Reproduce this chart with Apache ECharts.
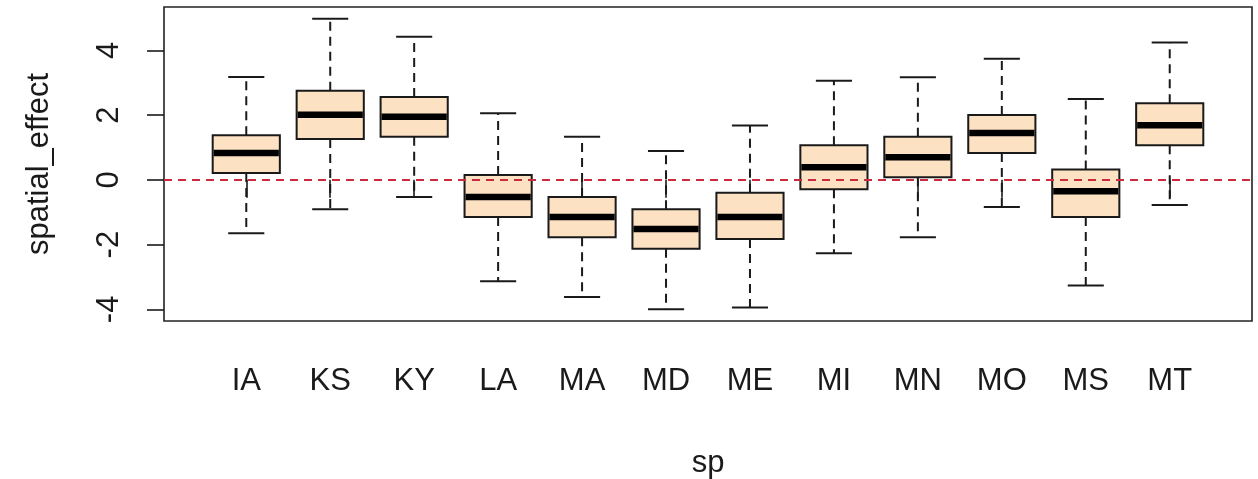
<!DOCTYPE html>
<html>
<head>
<meta charset="utf-8">
<script src="https://cdn.jsdelivr.net/npm/echarts@6/dist/echarts.min.js"></script>
<style>
  html, body { margin: 0; padding: 0; background: #fff; }
  #chart { width: 1258px; height: 479px; }
</style>
</head>
<body>
<div id="chart"></div>
<script>
// Spatial effect by state: five-number summaries per box
const categories = ['IA', 'KS', 'KY', 'LA', 'MA', 'MD', 'ME', 'MI', 'MN', 'MO', 'MS', 'MT'];
const lowerWhisker = [-1.65, -0.91, -0.53, -3.13, -3.62, -4.00, -3.94, -2.27, -1.77, -0.84, -3.26, -0.78];
const q1Values     = [ 0.21,  1.26,  1.33, -1.15, -1.77, -2.13, -1.83, -0.29,  0.08,  0.83, -1.15,  1.07];
const medianValues = [ 0.83,  2.01,  1.95, -0.53, -1.15, -1.52, -1.15,  0.39,  0.70,  1.45, -0.35,  1.69];
const q3Values     = [ 1.38,  2.75,  2.56,  0.15, -0.53, -0.91, -0.40,  1.07,  1.33,  2.00,  0.32,  2.37];
const upperWhisker = [ 3.18,  4.98,  4.42,  2.06,  1.33,  0.89,  1.68,  3.06,  3.17,  3.74,  2.50,  4.24];
const yTicks = [-4, -2, 0, 2, 4];
const referenceLevel = 0;

const FONT = '"Liberation Sans", Arial, sans-serif';
const FONT_SIZE = 31;
const INK = '#1a1a1a';

// R-style axis extents: boxes at 1..n, range [0.5, n + 0.5] padded by 4% per side
const n = categories.length;
const xPad = n * 0.04;
const xMin = 0.5 - xPad, xMax = n + 0.5 + xPad;
const dataMin = Math.min(...lowerWhisker), dataMax = Math.max(...upperWhisker);
const yPad = (dataMax - dataMin) * 0.04;

const boxData = categories.map((c, i) => [i + 1, lowerWhisker[i], q1Values[i], medianValues[i], q3Values[i], upperWhisker[i]]);

function renderBox(params, api) {
  const x = api.value(0);
  const lo = api.coord([x, api.value(1)]);
  const q1 = api.coord([x, api.value(2)]);
  const med = api.coord([x, api.value(3)]);
  const q3 = api.coord([x, api.value(4)]);
  const hi = api.coord([x, api.value(5)]);
  const halfBox = api.size([0.8, 0])[0] / 2;
  const halfCap = api.size([0.43, 0])[0] / 2;
  const cx = lo[0];
  const dashStyle = { stroke: INK, lineWidth: 2, lineDash: [9, 6], fill: null };
  const solid = { stroke: INK, lineWidth: 2, fill: null };
  return {
    type: 'group',
    children: [
      { type: 'line', shape: { x1: cx, y1: q3[1], x2: cx, y2: hi[1] }, style: dashStyle },
      { type: 'line', shape: { x1: cx, y1: q1[1], x2: cx, y2: lo[1] }, style: dashStyle },
      { type: 'line', shape: { x1: cx - halfCap, y1: hi[1], x2: cx + halfCap, y2: hi[1] }, style: solid },
      { type: 'line', shape: { x1: cx - halfCap, y1: lo[1], x2: cx + halfCap, y2: lo[1] }, style: solid },
      { type: 'rect', shape: { x: cx - halfBox, y: q3[1], width: halfBox * 2, height: q1[1] - q3[1] },
        style: { fill: '#fde1c3', stroke: INK, lineWidth: 2 } },
      { type: 'line', shape: { x1: cx - halfBox + 1, y1: med[1], x2: cx + halfBox - 1, y2: med[1] },
        style: { stroke: '#000', lineWidth: 6.5 } }
    ]
  };
}

const chart = echarts.init(document.getElementById('chart'), null, { renderer: 'canvas' });
chart.setOption({
  animation: false,
  backgroundColor: '#fff',
  grid: {
    left: 164, right: 6, top: 7, bottom: 158,
    outerBoundsMode: 'none',
    containLabel: false,
    show: true, borderColor: '#222', borderWidth: 1.6, backgroundColor: 'transparent'
  },
  xAxis: {
    type: 'value',
    min: xMin, max: xMax,
    name: 'sp',
    nameLocation: 'middle',
    nameGap: 127,
    nameTextStyle: { fontFamily: FONT, fontSize: FONT_SIZE, color: INK },
    axisLine: { show: false },
    splitLine: { show: false },
    axisTick: {
      show: true, inside: false, length: 18,
      lineStyle: { color: INK, width: 1.6 },
      customValues: categories.map((c, i) => i + 1)
    },
    axisLabel: {
      margin: 45,
      fontFamily: FONT, fontSize: FONT_SIZE, color: INK,
      customValues: categories.map((c, i) => i + 1),
      formatter: v => categories[Math.round(v) - 1] || ''
    }
  },
  yAxis: {
    type: 'value',
    min: dataMin - yPad, max: dataMax + yPad,
    name: 'spatial_effect',
    nameLocation: 'middle',
    nameRotate: 90,
    nameGap: 109,
    nameTextStyle: { fontFamily: FONT, fontSize: FONT_SIZE, color: INK },
    axisLine: { show: false },
    splitLine: { show: false },
    axisTick: {
      show: true, inside: false, length: 17,
      lineStyle: { color: INK, width: 1.6 },
      customValues: yTicks
    },
    axisLabel: {
      rotate: 90,
      margin: 39,
      fontFamily: FONT, fontSize: FONT_SIZE, color: INK,
      customValues: yTicks,
      formatter: v => String(v)
    }
  },
  series: [{
    type: 'custom',
    renderItem: renderBox,
    data: boxData,
    encode: { x: 0, y: [1, 2, 3, 4, 5] },
    clip: false,
    z: 2,
    markLine: {
      silent: true,
      symbol: 'none',
      z: 5,
      label: { show: false },
      lineStyle: { color: '#cc2a3e', width: 2, type: [8, 6] },
      data: [{ yAxis: referenceLevel }]
    }
  }]
});
</script>
</body>
</html>
